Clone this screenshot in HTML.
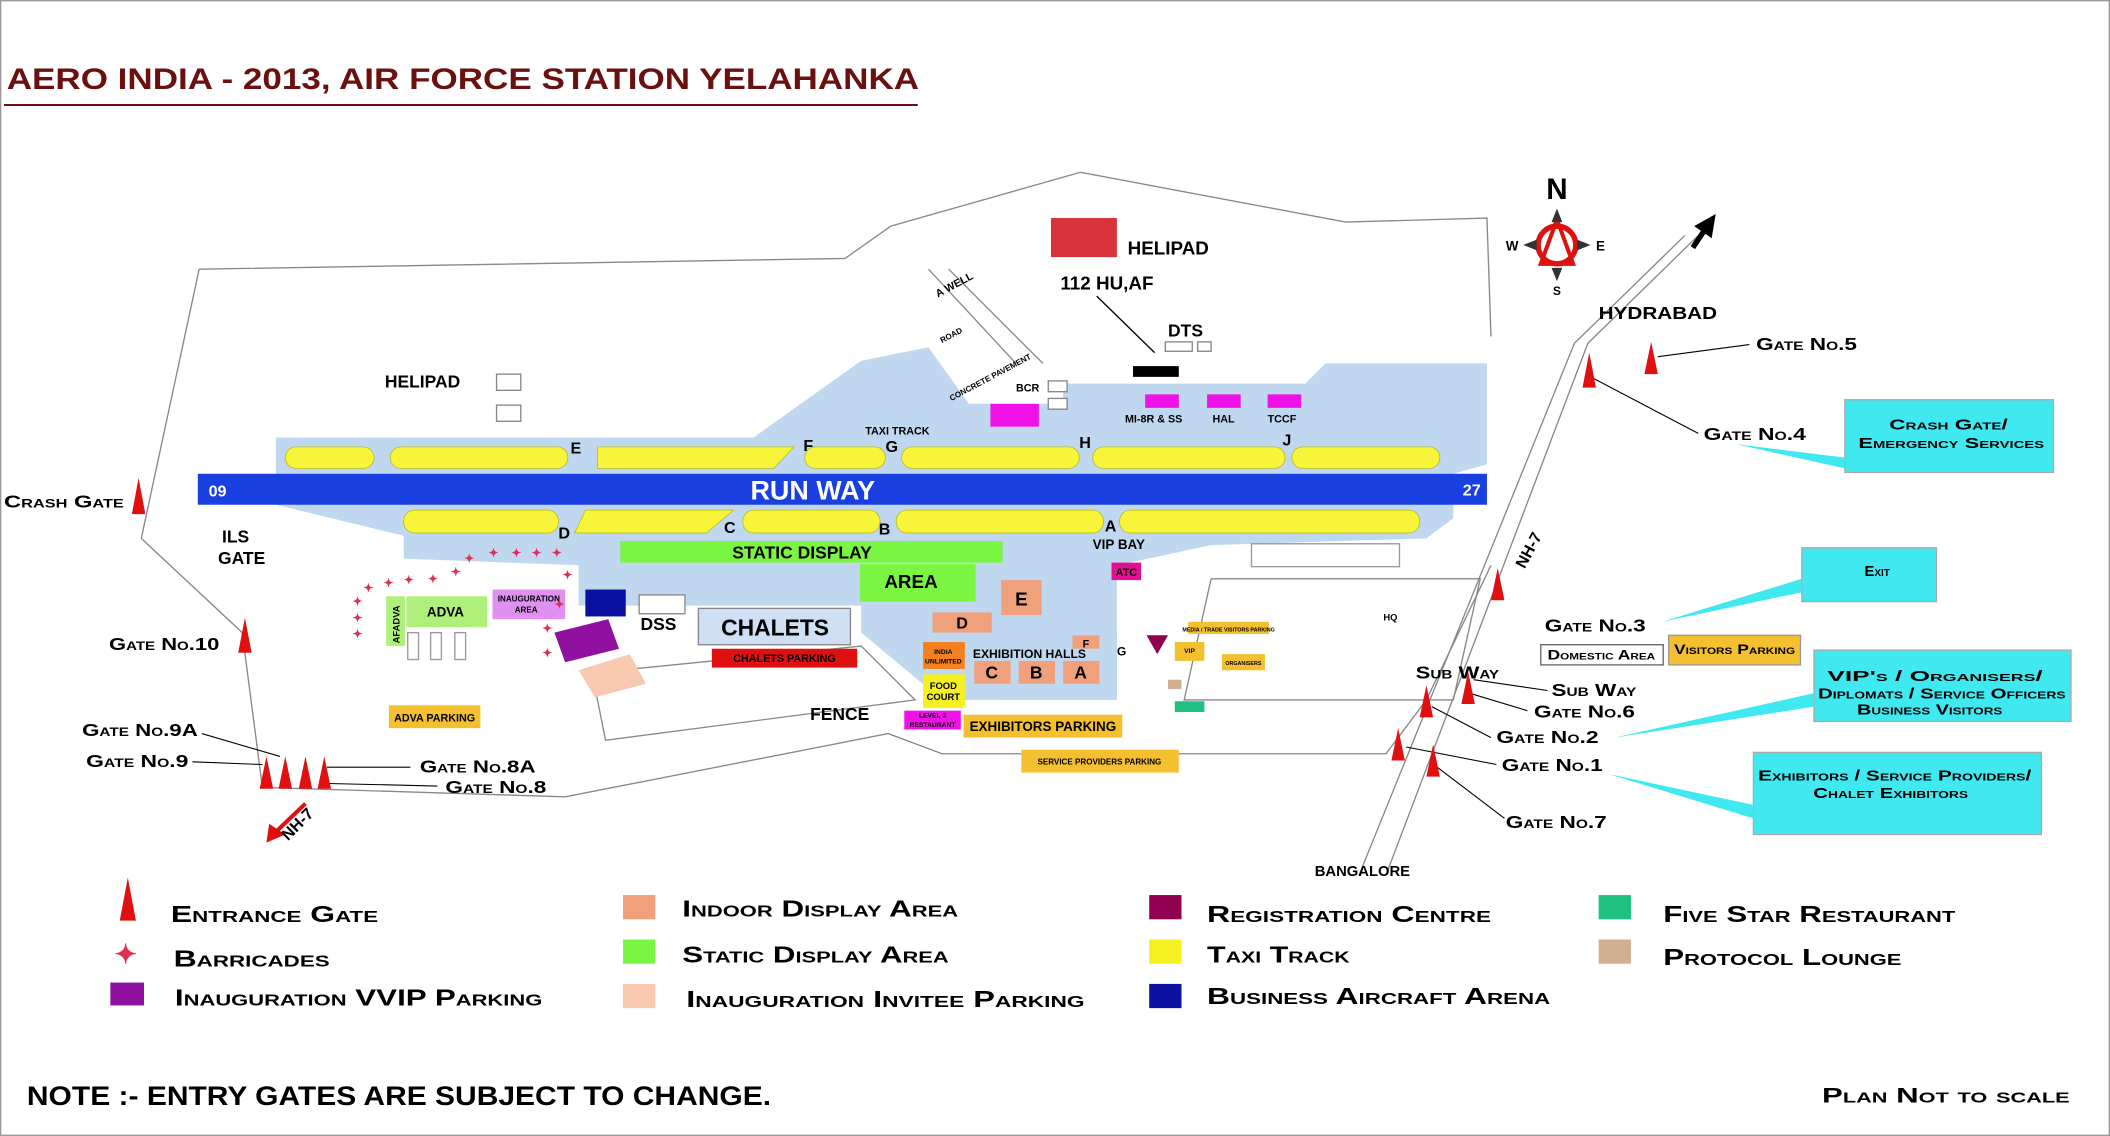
<!DOCTYPE html>
<html><head><meta charset="utf-8"><style>
html,body{margin:0;padding:0;background:#fff}
svg{display:block}
text{font-family:"Liberation Sans",sans-serif;font-weight:bold}
.sc{font-variant:small-caps}
</style></head><body>
<svg width="2110" height="1136" viewBox="0 0 1568 844" preserveAspectRatio="none" xmlns="http://www.w3.org/2000/svg">
<rect x="0.5" y="0.5" width="1567" height="843" fill="#fff" stroke="#999"/>
<text x="5" y="66" font-size="22" fill="#6b1010" textLength="678" lengthAdjust="spacingAndGlyphs">AERO INDIA - 2013, AIR FORCE STATION YELAHANKA</text>
<line x1="3" y1="78" x2="682" y2="78" stroke="#6b1010" stroke-width="1.5"/>

<g fill="none" stroke="#888" stroke-width="1">
<polyline points="148,200 628,192 662,168 803,128 1000,165 1105,162 1108,250"/>
<polyline points="148,200 105,400 180,470 195,585 420,592 660,545 700,560 1030,560 1060,520 1108,420"/>
<polyline points="1030,650 1180,255 1262,175"/>
<polyline points="1010,650 1170,255 1252,175"/>
<polyline points="690,200 755,270"/>
<polyline points="705,200 775,270"/>
<polyline points="440,500 640,480 680,520 450,550 440,500"/>
<polyline points="900,430 1100,430 1080,520 880,520 900,430"/>
</g>

<polygon points="205,325 560,325 640,268 690,258 720,300 790,300 790,285 970,285 985,270 1105,270 1105,345 1080,352 1080,385 1060,400 900,405 830,420 830,520 700,520 640,470 640,450 430,450 430,420 300,415 300,398 205,375" fill="#bfd8f0"/>
<polygon points="745,468 830,468 830,520 745,520" fill="#bfd8f0"/>

<rect x="147" y="352" width="958" height="23" fill="#1a3fe0"/>
<text x="604" y="371" font-size="20" fill="#fff" text-anchor="middle">RUN WAY</text>
<text x="155" y="369" font-size="12" fill="#fff">09</text>
<text x="1087" y="368" font-size="12" fill="#fff">27</text>

<g fill="#f7f53a" stroke="#b8b820" stroke-width="0.6">
<rect x="212" y="332" width="66" height="16" rx="8"/>
<rect x="290" y="332" width="132" height="16" rx="8"/>
<polygon points="444,332 590,332 575,348 444,348"/>
<rect x="598" y="332" width="60" height="16" rx="8"/>
<rect x="670" y="332" width="132" height="16" rx="8"/>
<rect x="812" y="332" width="143" height="16" rx="8"/>
<rect x="960" y="332" width="110" height="16" rx="8"/>
<rect x="300" y="379" width="115" height="17" rx="8"/>
<polygon points="435,379 545,379 525,396 427,396"/>
<rect x="552" y="379" width="102" height="17" rx="8"/>
<rect x="666" y="379" width="154" height="17" rx="8"/>
<rect x="832" y="379" width="223" height="17" rx="8"/>
</g>
<g font-size="12" fill="#000">
<text x="424" y="337">E</text><text x="597" y="335">F</text><text x="658" y="336">G</text>
<text x="802" y="333">H</text><text x="953" y="331">J</text><text x="415" y="400">D</text>
<text x="538" y="396">C</text><text x="653" y="397">B</text><text x="821" y="395">A</text>
</g>

<rect x="461" y="402" width="284" height="16" fill="#7af542"/>
<text x="596" y="415" font-size="13" text-anchor="middle">STATIC DISPLAY</text>
<rect x="639" y="419" width="86" height="28" fill="#7af542"/>
<text x="677" y="437" font-size="14" text-anchor="middle">AREA</text>

<rect x="781" y="162" width="49" height="29" fill="#d8323c"/>
<text x="838" y="189" font-size="14">HELIPAD</text>
<text x="788" y="215" font-size="14">112 HU,AF</text>
<line x1="815" y1="220" x2="858" y2="262" stroke="#000"/>
<text x="868" y="250" font-size="13">DTS</text>
<rect x="866" y="254" width="20" height="7" fill="#fff" stroke="#888"/>
<rect x="890" y="254" width="10" height="7" fill="#fff" stroke="#888"/>
<rect x="842" y="272" width="34" height="8" fill="#000"/>
<text x="697" y="221" font-size="8" transform="rotate(-28 697 221)">A WELL</text>
<text x="700" y="255" font-size="6" transform="rotate(-28 700 255)">ROAD</text>
<text x="707" y="298" font-size="6" transform="rotate(-28 707 298)">CONCRETE PAVEMENT</text>
<text x="755" y="291" font-size="8">BCR</text>
<rect x="779" y="283" width="14" height="8" fill="#fff" stroke="#888"/>
<rect x="779" y="296" width="14" height="8" fill="#fff" stroke="#888"/>
<rect x="736" y="300" width="36" height="17" fill="#f010e8"/>
<text x="643" y="323" font-size="8">TAXI TRACK</text>
<rect x="851" y="293" width="25" height="10" fill="#f010e8"/>
<rect x="897" y="293" width="25" height="10" fill="#f010e8"/>
<rect x="942" y="293" width="25" height="10" fill="#f010e8"/>
<text x="836" y="314" font-size="8">MI-8R &amp; SS</text>
<text x="901" y="314" font-size="8">HAL</text>
<text x="942" y="314" font-size="8">TCCF</text>
<text x="286" y="288" font-size="13">HELIPAD</text>
<rect x="369" y="278" width="18" height="12" fill="#fff" stroke="#888"/>
<rect x="369" y="301" width="18" height="12" fill="#fff" stroke="#888"/>

<text x="3" y="377" font-size="13" class="sc" textLength="89" lengthAdjust="spacingAndGlyphs">Crash Gate</text>
<text x="165" y="403" font-size="13">ILS</text>
<text x="162" y="419" font-size="13">GATE</text>
<text x="81" y="483" font-size="13" class="sc" textLength="82" lengthAdjust="spacingAndGlyphs">Gate No.10</text>
<rect x="287" y="443" width="14" height="37" fill="#aef07a"/>
<text x="297" y="478" font-size="7" transform="rotate(-90 297 478)">AFADVA</text>
<rect x="302" y="443" width="60" height="23" fill="#aef07a"/>
<text x="331" y="458" font-size="10" text-anchor="middle">ADVA</text>
<rect x="366" y="438" width="54" height="22" fill="#e090f0"/>
<text x="393" y="447" font-size="6" text-anchor="middle">INAUGURATION</text>
<text x="391" y="455" font-size="6" text-anchor="middle">AREA</text>
<rect x="435" y="438" width="30" height="20" fill="#0a10a0"/>
<polygon points="412,470 452,460 460,482 420,492" fill="#9010a0"/>
<polygon points="430,498 468,486 480,508 442,518" fill="#f8c8b0"/>
<rect x="475" y="442" width="34" height="14" fill="#fff" stroke="#888"/>
<text x="476" y="468" font-size="13">DSS</text>
<rect x="519" y="452" width="113" height="27" fill="#cfe0f5" stroke="#888"/>
<text x="576" y="472" font-size="17" text-anchor="middle">CHALETS</text>
<rect x="529" y="482" width="108" height="14" fill="#e01010"/>
<text x="583" y="492" font-size="8" fill="#000" text-anchor="middle">CHALETS PARKING</text>
<rect x="289" y="524" width="68" height="17" fill="#f5c030"/>
<text x="323" y="536" font-size="8" text-anchor="middle">ADVA PARKING</text>
<g fill="#e03050" font-size="9">
<text x="262" y="450">✦</text><text x="262" y="462">✦</text><text x="262" y="474">✦</text>
<text x="270" y="440">✦</text><text x="285" y="436">✦</text><text x="300" y="434">✦</text><text x="318" y="433">✦</text>
<text x="335" y="428">✦</text><text x="345" y="418">✦</text><text x="363" y="414">✦</text><text x="380" y="414">✦</text><text x="395" y="414">✦</text><text x="410" y="414">✦</text>
<text x="418" y="430">✦</text><text x="412" y="452">✦</text><text x="403" y="470">✦</text><text x="403" y="488">✦</text>
</g>
<g fill="none" stroke="#999">
<rect x="303" y="470" width="8" height="20"/><rect x="320" y="470" width="8" height="20"/><rect x="338" y="470" width="8" height="20"/>
</g>

<rect x="744" y="431" width="30" height="26" fill="#f0a07a"/>
<text x="759" y="450" font-size="14" text-anchor="middle">E</text>
<rect x="693" y="455" width="44" height="15" fill="#f0a07a"/>
<text x="715" y="467" font-size="12" text-anchor="middle">D</text>
<text x="723" y="489" font-size="9">EXHIBITION HALLS</text>
<rect x="724" y="491" width="27" height="17" fill="#f0a07a"/><text x="737" y="504" font-size="13" text-anchor="middle">C</text>
<rect x="757" y="491" width="27" height="17" fill="#f0a07a"/><text x="770" y="504" font-size="13" text-anchor="middle">B</text>
<rect x="790" y="491" width="27" height="17" fill="#f0a07a"/><text x="803" y="504" font-size="13" text-anchor="middle">A</text>
<rect x="797" y="472" width="20" height="10" fill="#f0a07a"/><text x="807" y="481" font-size="8" text-anchor="middle">F</text>
<text x="830" y="487" font-size="9">G</text>
<rect x="686" y="477" width="31" height="20" fill="#f58020"/>
<text x="701" y="486" font-size="5" text-anchor="middle">INDIA</text><text x="701" y="493" font-size="5" text-anchor="middle">UNLIMITED</text>
<rect x="686" y="501" width="31" height="25" fill="#f5f020"/>
<text x="701" y="512" font-size="7" text-anchor="middle">FOOD</text><text x="701" y="520" font-size="7" text-anchor="middle">COURT</text>
<rect x="672" y="528" width="42" height="14" fill="#f010e8"/>
<text x="693" y="533" font-size="5" text-anchor="middle">LEVEL 3</text><text x="693" y="540" font-size="5" text-anchor="middle">RESTAURANT</text>
<rect x="716" y="531" width="118" height="17" fill="#f5c030"/>
<text x="775" y="543" font-size="10" text-anchor="middle">EXHIBITORS PARKING</text>
<rect x="759" y="557" width="117" height="17" fill="#f5c030"/>
<text x="817" y="568" font-size="6" text-anchor="middle">SERVICE PROVIDERS PARKING</text>
<text x="602" y="535" font-size="13">FENCE</text>
<text x="812" y="408" font-size="10">VIP BAY</text>
<rect x="826" y="418" width="22" height="13" fill="#e01090"/><text x="837" y="428" font-size="8" text-anchor="middle">ATC</text>
<polygon points="852,472 868,472 860,486" fill="#900050"/>
<rect x="873" y="477" width="22" height="14" fill="#f5c030"/><text x="884" y="485" font-size="5" text-anchor="middle">VIP</text>
<rect x="883" y="462" width="60" height="9" fill="#f5c030"/><text x="913" y="469" font-size="4" text-anchor="middle">MEDIA / TRADE VISITORS PARKING</text>
<rect x="908" y="486" width="32" height="12" fill="#f5c030"/><text x="924" y="494" font-size="4" text-anchor="middle">ORGANISERS</text>
<rect x="873" y="521" width="22" height="8" fill="#20c080"/>
<rect x="868" y="505" width="10" height="7" fill="#d0b090"/>
<rect x="930" y="404" width="110" height="17" fill="#fff" stroke="#999"/>
<text x="1028" y="461" font-size="7">HQ</text>

<text x="1188" y="237" font-size="13" textLength="88" lengthAdjust="spacingAndGlyphs">HYDRABAD</text>
<line x1="1258" y1="184" x2="1266" y2="172" stroke="#000" stroke-width="4"/>
<polygon points="1275,159 1259,168 1272,177" fill="#000"/>
<g font-size="13" class="sc">
<text x="1305" y="260" textLength="75" lengthAdjust="spacingAndGlyphs">Gate No.5</text>
<text x="1266" y="327" textLength="76" lengthAdjust="spacingAndGlyphs">Gate No.4</text>
<text x="1148" y="469" textLength="75" lengthAdjust="spacingAndGlyphs">Gate No.3</text>
<text x="1052" y="504" textLength="62" lengthAdjust="spacingAndGlyphs">Sub Way</text>
<text x="1153" y="517" textLength="63" lengthAdjust="spacingAndGlyphs">Sub Way</text>
<text x="1140" y="533" textLength="75" lengthAdjust="spacingAndGlyphs">Gate No.6</text>
<text x="1112" y="552" textLength="76" lengthAdjust="spacingAndGlyphs">Gate No.2</text>
<text x="1116" y="573" textLength="75" lengthAdjust="spacingAndGlyphs">Gate No.1</text>
<text x="1119" y="615" textLength="75" lengthAdjust="spacingAndGlyphs">Gate No.7</text>
</g>
<text x="977" y="651" font-size="11">BANGALORE</text>
<text x="1133" y="423" font-size="12" transform="rotate(-62 1133 423)">NH-7</text>
<rect x="1145" y="479" width="91" height="15" fill="#fff" stroke="#666"/>
<text x="1190" y="490" font-size="10" class="sc" text-anchor="middle" textLength="80" lengthAdjust="spacingAndGlyphs">Domestic Area</text>
<rect x="1240" y="472" width="98" height="22" fill="#f5c030" stroke="#999"/>
<text x="1289" y="486" font-size="10" class="sc" text-anchor="middle" textLength="90" lengthAdjust="spacingAndGlyphs">Visitors Parking</text>
<g fill="#40e8f0" stroke="#aaa">
<rect x="1371" y="297" width="155" height="54"/>
<rect x="1339" y="407" width="100" height="40"/>
<rect x="1348" y="483" width="191" height="53"/>
<rect x="1303" y="559" width="214" height="61"/>
</g>
<g font-size="11" class="sc" text-anchor="middle">
<text x="1448" y="319" textLength="88" lengthAdjust="spacingAndGlyphs">Crash Gate/</text><text x="1450" y="333" textLength="138" lengthAdjust="spacingAndGlyphs">Emergency Services</text>
<text x="1395" y="428">Exit</text>
<text x="1438" y="506" textLength="160" lengthAdjust="spacingAndGlyphs">VIP's / Organisers/</text><text x="1443" y="519" textLength="184" lengthAdjust="spacingAndGlyphs">Diplomats / Service Officers</text><text x="1434" y="531" textLength="108" lengthAdjust="spacingAndGlyphs">Business Visitors</text>
<text x="1408" y="580" textLength="203" lengthAdjust="spacingAndGlyphs">Exhibitors / Service Providers/</text><text x="1405" y="593" textLength="115" lengthAdjust="spacingAndGlyphs">Chalet Exhibitors</text>
</g>
<g fill="#40e8f0">
<polygon points="1290,330 1371,340 1371,348"/>
<polygon points="1235,462 1339,430 1339,440"/>
<polygon points="1200,548 1348,515 1348,525"/>
<polygon points="1195,575 1303,598 1303,608"/>
</g>
<g stroke="#000" stroke-width="0.8" fill="none">
<line x1="1232" y1="265" x2="1300" y2="256"/>
<line x1="1182" y1="280" x2="1262" y2="322"/>
<line x1="1095" y1="505" x2="1150" y2="513"/>
<line x1="1092" y1="515" x2="1135" y2="528"/>
<line x1="1064" y1="525" x2="1108" y2="548"/>
<line x1="1045" y1="555" x2="1112" y2="568"/>
<line x1="1068" y1="570" x2="1118" y2="608"/>
<line x1="150" y1="545" x2="208" y2="562"/>
<line x1="143" y1="566" x2="195" y2="568"/>
<line x1="243" y1="570" x2="305" y2="570"/>
<line x1="240" y1="582" x2="325" y2="584"/>
</g>
<g fill="#e01010">
<polygon points="1176,288 1181,262 1186,288"/>
<polygon points="1222,278 1227,254 1232,278"/>
<polygon points="1108,446 1113,422 1118,446"/>
<polygon points="1055,533 1060,509 1065,533"/>
<polygon points="1086,523 1091,499 1096,523"/>
<polygon points="1034,565 1039,541 1044,565"/>
<polygon points="1060,577 1065,553 1070,577"/>
<polygon points="98,382 103,355 108,382"/>
<polygon points="177,485 182,459 187,485"/>
<polygon points="193,586 198,562 203,586"/>
<polygon points="207,586 212,562 217,586"/>
<polygon points="222,586 227,562 232,586"/>
<polygon points="236,586 241,562 246,586"/>
</g>
<g font-size="13" class="sc">
<text x="61" y="547" textLength="86" lengthAdjust="spacingAndGlyphs">Gate No.9A</text>
<text x="64" y="570" textLength="76" lengthAdjust="spacingAndGlyphs">Gate No.9</text>
<text x="312" y="574" textLength="86" lengthAdjust="spacingAndGlyphs">Gate No.8A</text>
<text x="331" y="589" textLength="75" lengthAdjust="spacingAndGlyphs">Gate No.8</text>
</g>
<line x1="227" y1="597" x2="203" y2="620" stroke="#e01010" stroke-width="3"/>
<polygon points="198,626 200,612 212,620" fill="#e01010"/>
<text x="214" y="625" font-size="12" transform="rotate(-45 214 625)">NH-7</text>

<text x="1157" y="148" font-size="22" text-anchor="middle">N</text>
<circle cx="1157" cy="182" r="14" fill="none" stroke="#e01010" stroke-width="4"/>
<polygon points="1157,163 1145,196 1169,196" fill="none" stroke="#e01010" stroke-width="3"/>
<polygon points="1157,155 1153,165 1161,165" fill="#333"/>
<polygon points="1157,209 1153,199 1161,199" fill="#333"/>
<polygon points="1132,182 1142,178 1142,186" fill="#333"/>
<polygon points="1182,182 1172,178 1172,186" fill="#333"/>
<text x="1119" y="186" font-size="10">W</text><text x="1186" y="186" font-size="10">E</text>
<text x="1154" y="219" font-size="9">S</text>

<polygon points="89,684 95,652 101,684" fill="#e01010"/>
<text x="85" y="716" font-size="20" fill="#e03050">✦</text>
<rect x="82" y="730" width="25" height="17" fill="#9010a0"/>
<rect x="463" y="665" width="24" height="18" fill="#f0a07a"/>
<rect x="463" y="698" width="24" height="18" fill="#7af542"/>
<rect x="463" y="731" width="24" height="18" fill="#f8c8b0"/>
<rect x="854" y="665" width="24" height="18" fill="#900050"/>
<rect x="854" y="698" width="24" height="18" fill="#f5f020"/>
<rect x="854" y="731" width="24" height="18" fill="#0a10a0"/>
<rect x="1188" y="665" width="24" height="18" fill="#20c080"/>
<rect x="1188" y="698" width="24" height="18" fill="#d0b090"/>
<g font-size="17" class="sc">
<text x="127" y="685" textLength="154" lengthAdjust="spacingAndGlyphs">Entrance Gate</text>
<text x="129" y="718" textLength="116" lengthAdjust="spacingAndGlyphs">Barricades</text>
<text x="130" y="747" textLength="273" lengthAdjust="spacingAndGlyphs">Inauguration VVIP Parking</text>
<text x="507" y="681" textLength="205" lengthAdjust="spacingAndGlyphs">Indoor Display Area</text>
<text x="507" y="715" textLength="198" lengthAdjust="spacingAndGlyphs">Static Display Area</text>
<text x="510" y="748" textLength="296" lengthAdjust="spacingAndGlyphs">Inauguration Invitee Parking</text>
<text x="897" y="685" textLength="211" lengthAdjust="spacingAndGlyphs">Registration Centre</text>
<text x="897" y="715" textLength="106" lengthAdjust="spacingAndGlyphs">Taxi Track</text>
<text x="897" y="746" textLength="255" lengthAdjust="spacingAndGlyphs">Business Aircraft Arena</text>
<text x="1236" y="685" textLength="217" lengthAdjust="spacingAndGlyphs">Five Star Restaurant</text>
<text x="1236" y="717" textLength="177" lengthAdjust="spacingAndGlyphs">Protocol Lounge</text>
</g>
<text x="20" y="821" font-size="20" textLength="553" lengthAdjust="spacingAndGlyphs">NOTE :- ENTRY GATES ARE SUBJECT TO CHANGE.</text>
<text x="1354" y="819" font-size="16" class="sc" textLength="184" lengthAdjust="spacingAndGlyphs">Plan  Not to scale</text>
</svg>
</body></html>
